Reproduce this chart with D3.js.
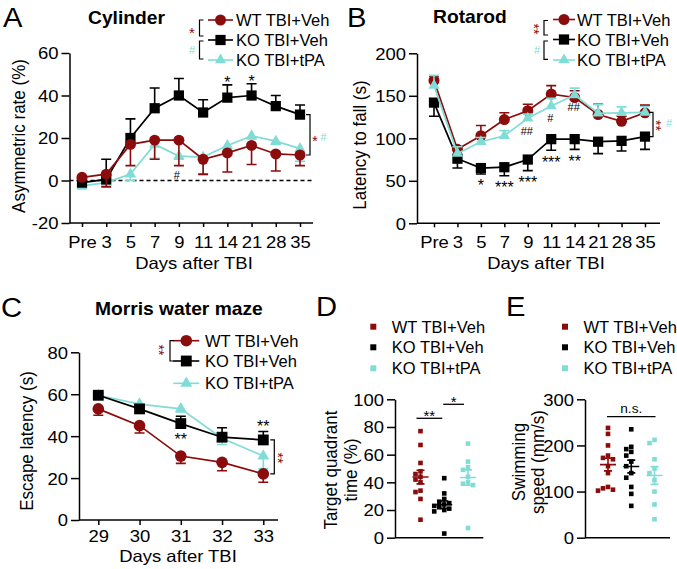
<!DOCTYPE html>
<html><head><meta charset="utf-8">
<script src="https://cdn.jsdelivr.net/npm/d3@7"></script>
<style>body{margin:0;background:#fff} svg{display:block} text{font-family:"Liberation Sans",Arial,Helvetica,sans-serif}</style>
</head><body><svg id="c" width="677" height="569"></svg>
<script>
// ---------------- DATA ----------------
const groupNames = ["WT TBI+Veh", "KO TBI+Veh", "KO TBI+tPA"];

const cylDays = ["Pre","3","5","7","9","11","14","21","28","35"];
const cylTicks = [-20, 0, 20, 40, 60];
const cylWT = [1.5, 3, 17, 19, 19, 10, 13, 16.5, 12.5, 12];
const cylWTErr = [1, 6, 10, 9, 12, 7, 9, 9, 8, 5];
const cylKO = [-1, 0.5, 20, 34, 40, 32, 39, 40, 35, 31];
const cylKOErr = [0.5, 9.5, 9, 9.5, 8, 6, 6, 5.5, 5, 4.5];
const cylTPA = [-2.5, -1, 3, 17, 11.5, 11, 16.5, 21, 18.5, 15];
const cylTPAErr = [1.5, 1, 3, 6.5, 1.5, 8.5, 1.5, 1.5, 1.5, 6];
const cylKOSig = ["", "", "", "", "", "", "*", "*", "", ""];
const cylTPASig = ["", "", "", "", "#", "", "", "", "", ""];

const rotDays = ["Pre","3","5","7","9","11","14","21","28","35"];
const rotTicks = [0, 50, 100, 150, 200];
const rotWT = [168, 87, 103, 122, 132.5, 152, 148, 128, 120, 130];
const rotWTErr = [5, 3, 12, 8, 7.5, 10, 8, 12, 6, 9];
const rotKO = [142, 76, 65, 66, 75, 99, 99, 96, 97, 102];
const rotKOErr = [16, 11, 7, 10, 13, 13, 12, 14, 12, 15];
const rotTPA = [162, 82, 96, 103, 123.5, 138, 151, 129.5, 130, 130.5];
const rotTPAErr = [12, 8, 5, 6, 5, 9, 8, 10, 7, 7];
const rotKOSig = ["", "", "*", "***", "***", "***", "**", "", "", ""];
const rotTPASig = ["", "", "", "", "##", "#", "##", "", "", ""];

const mwmDays = ["29","30","31","32","33"];
const mwmTicks = [0, 20, 40, 60, 80];
const mwmWT = [53, 45, 30.5, 27.5, 22];
const mwmWTErr = [3, 3.5, 3.5, 4, 4];
const mwmKO = [59.5, 53, 46, 39.5, 38.2];
const mwmKOErr = [1, 2, 3.5, 4.5, 4];
const mwmTPA = [59.5, 55.3, 53, 39, 30.5];
const mwmTPAErr = [0.5, 1, 1.5, 3, 6];
const mwmKOSigBelow = ["", "", "**", "", ""];
const mwmKOSigAbove = ["", "", "", "", "**"];

const tqTicks = [0, 20, 40, 60, 80, 100];
const tqWT = [77, 67, 54, 48, 46, 44, 42, 40, 34, 33, 28, 13];
const tqKO = [43, 32, 28, 26, 25, 24, 23, 22, 21, 20, 19, 3];
const tqTPA = [68, 55, 51, 49, 44, 40, 39, 38, 7];

const spTicks = [0, 100, 200, 300];
const spWT = [238, 225, 200, 178, 173, 170, 155, 140, 110, 107, 104, 102];
const spKO = [235, 197, 192, 186, 178, 165, 155, 140, 130, 110, 95, 69];
const spTPA = [212, 205, 170, 150, 140, 125, 100, 72, 40];

// ---------------- STYLE ----------------
const RED = "#8b0c0c", BLK = "#000", CYN = "#7fddd6";
const colors = [RED, BLK, CYN];
const FS = 16.5, SX = 1.12;
const svg = d3.select("#c");

function T(parent, x, y, s, o = {}) {
  const t = parent.append("text").text(s)
    .attr("font-size", o.size || FS)
    .attr("text-anchor", o.anchor || "start")
    .attr("fill", o.fill || "#000");
  if (o.weight) t.attr("font-weight", o.weight);
  const sx = o.sx == null ? SX : o.sx;
  t.attr("transform", o.rot
    ? `translate(${x},${y}) rotate(-90) scale(1,${sx})`
    : `translate(${x},${y}) scale(${sx},1)`);
  return t;
}
// symbol centred at yc (asterisk sits high in the em box)
function star(parent, x, yc, s, fill, size = 16) {
  return T(parent, x, yc + size * 0.62, s, {anchor: "middle", fill, size, sx: 1});
}
// vertically stacked asterisks, centred at (x, yc)
function vstars(parent, x, yc, s, fill, size = 15) {
  return parent.append("text").text(s)
    .attr("font-size", size).attr("text-anchor", "middle").attr("fill", fill)
    .attr("dy", size * 0.62)
    .attr("transform", `translate(${x},${yc}) rotate(90)`);
}
function hash(parent, x, yc, s, fill, size = 11) {
  return T(parent, x, yc + size * 0.36, s, {anchor: "middle", fill, size, sx: 1});
}

function yAxis(g, y, ticks, ax) {
  const a = g.append("g").attr("transform", `translate(${ax},0)`)
    .call(d3.axisLeft(y).tickValues(ticks).tickSize(8).tickSizeOuter(0).tickFormat(d => String(d)));
  a.attr("font-size", null).attr("font-family", null);
  a.selectAll("path,line").attr("stroke", "#000").attr("stroke-width", 1.5);
  a.selectAll("text").attr("x", 0).attr("dy", "0.36em").attr("font-size", FS).attr("fill", "#000")
    .attr("transform", `translate(-11,0) scale(${SX},1)`);
  return a;
}
function xAxisLine(g, x0, x1, yy) {
  g.append("line").attr("x1", x0).attr("x2", x1).attr("y1", yy).attr("y2", yy)
    .attr("stroke", "#000").attr("stroke-width", 1.5);
}

function legendLines(g, rows, lx0, lx1, tx, syms) {
  rows.forEach((ry, i) => {
    g.append("line").attr("x1", lx0).attr("x2", lx1).attr("y1", ry).attr("y2", ry)
      .attr("stroke", colors[i]).attr("stroke-width", 1.6);
    g.append("path").attr("transform", `translate(${(lx0 + lx1) / 2},${ry})`)
      .attr("d", d3.symbol(syms[i].type, syms[i].size)()).attr("fill", colors[i]);
    T(g, tx, ry + 6, groupNames[i], {sx: 1});
  });
}
function bracketL(g, x, y0, y1) {
  g.append("path").attr("d", `M${x + 4},${y0}H${x}V${y1}H${x + 4}`)
    .attr("fill", "none").attr("stroke", "#000").attr("stroke-width", 1.2);
}
function bracketR(g, x, y0, y1) {
  g.append("path").attr("d", `M${x - 4},${y0}H${x}V${y1}H${x - 4}`)
    .attr("fill", "none").attr("stroke", "#000").attr("stroke-width", 1.2);
}

const SYM = [
  {type: d3.symbolCircle, size: 95},
  {type: d3.symbolSquare, size: 105},
  {type: d3.symbolTriangle, size: 55}
];

function linePanel(p) {
  const g = svg.append("g");
  const x = d3.scalePoint().domain(p.cats).range(p.xr);
  const y = d3.scaleLinear().domain(p.yd).range(p.yr);
  yAxis(g, y, p.ticks, p.ax);
  const xa = g.append("g").attr("transform", `translate(0,${p.yr[0]})`)
    .call(d3.axisBottom(x).tickSize(p.xtick).tickSizeOuter(0));
  xa.attr("font-size", null).attr("font-family", null);
  xa.select(".domain").remove();
  xa.selectAll("line").attr("stroke", "#000").attr("stroke-width", 1.5);
  xa.selectAll("text").attr("y", 0).attr("dy", 0).attr("font-size", FS).attr("fill", "#000")
    .attr("transform", `translate(0,${p.xlab}) scale(${SX},1)`);
  xAxisLine(g, p.ax, p.axEnd, p.yr[0]);
  if (p.zero) {
    g.append("line").attr("x1", p.ax).attr("x2", p.axEnd).attr("y1", y(0)).attr("y2", y(0))
      .attr("stroke", "#000").attr("stroke-width", 1.3).attr("stroke-dasharray", "4,3");
  }
  p.order.forEach(k => {
    const s = p.series[k];
    const sg = g.append("g");
    const pts = s.v.map((v, i) => ({c: p.cats[i], v, e: s.e[i]}));
    sg.append("path").datum(pts)
      .attr("d", d3.line().x(d => x(d.c)).y(d => y(d.v)))
      .attr("fill", "none").attr("stroke", colors[k]).attr("stroke-width", 1.7);
    sg.selectAll(".eb").data(pts).join("path")
      .attr("d", d => {
        const xx = x(d.c), y0 = y(d.v), y1 = y(d.v + s.dir * d.e);
        return `M${xx},${y0}V${y1}M${xx - 5},${y1}H${xx + 5}`;
      })
      .attr("fill", "none").attr("stroke", colors[k]).attr("stroke-width", 1.6);
    sg.selectAll(".mk").data(pts).join("path")
      .attr("transform", d => `translate(${x(d.c)},${y(d.v)})`)
      .attr("d", d3.symbol(SYM[k].type, p.symScale * SYM[k].size)())
      .attr("fill", colors[k]);
  });
  T(g, p.xt[0], p.xt[1], "Days after TBI", {anchor: "middle"});
  T(g, p.yt[0], p.yt[1], p.ytitle, {anchor: "middle", rot: true, size: 17});
  T(g, p.title[0], p.title[1], p.titleText, {weight: "bold", size: 17.5, sx: 1.1});
  T(g, p.letter[0], p.letter[1], p.letterText, {size: 27, sx: 1.08});
  return {g, x, y};
}

// ---------------- PANEL A ----------------
{
  const {g, x, y} = linePanel({
    cats: cylDays, xr: [82, 300], yd: [-20, 60], yr: [223, 53], ticks: cylTicks,
    ax: 69.5, axEnd: 313, xtick: 4, xlab: 25, zero: true,
    series: [{v: cylWT, e: cylWTErr, dir: -1}, {v: cylKO, e: cylKOErr, dir: 1}, {v: cylTPA, e: cylTPAErr, dir: -1}],
    order: [2, 1, 0], symScale: 1,
    xt: [194, 269], yt: [25, 136], ytitle: "Asymmetric rate (%)",
    title: [88, 23.5], titleText: "Cylinder", letter: [3, 26.7], letterText: "A"
  });
  cylKOSig.forEach((s, i) => { if (s) star(g, x(cylDays[i]), y(cylKO[i] + cylKOErr[i]) - 7, s, BLK); });
  cylTPASig.forEach((s, i) => { if (s) hash(g, x(cylDays[i]) - 2, y(Math.min(cylWT[i] - cylWTErr[i], cylTPA[i] - cylTPAErr[i])) + 9, s, BLK); });
  legendLines(g, [20, 40, 60], 208, 233, 236, SYM);
  bracketL(g, 199.5, 20, 36); star(g, 192, 29, "*", RED, 15);
  bracketL(g, 199.5, 41, 59); hash(g, 192, 50, "#", CYN, 11);
  const yt = y(cylKO[9]), yb = y(cylWT[9]);
  bracketR(g, 310, yt, yb);
  star(g, 315, (yt + yb) / 2 + 2, "*", RED, 15);
  hash(g, 323.5, (yt + yb) / 2 + 2, "#", CYN, 11);
}

// ---------------- PANEL B ----------------
{
  const {g, x, y} = linePanel({
    cats: rotDays, xr: [434, 645], yd: [0, 200], yr: [223.3, 53.3], ticks: rotTicks,
    ax: 417, axEnd: 660, xtick: 4, xlab: 25,
    series: [{v: rotWT, e: rotWTErr, dir: 1}, {v: rotKO, e: rotKOErr, dir: -1}, {v: rotTPA, e: rotTPAErr, dir: 1}],
    order: [1, 0, 2], symScale: 1,
    xt: [546, 269.3], yt: [366, 145], ytitle: "Latency to fall (s)",
    title: [433, 22.7], titleText: "Rotarod", letter: [347, 26.7], letterText: "B"
  });
  rotKOSig.forEach((s, i) => { if (s) star(g, x(rotDays[i]), y(rotKO[i] - rotKOErr[i]) + 7.5, s, BLK); });
  rotTPASig.forEach((s, i) => { if (s) hash(g, x(rotDays[i]) - 1, y(rotTPA[i]) + 12.5, s, BLK); });
  legendLines(g, [19.5, 39.5, 60], 553, 575, 577, SYM);
  bracketL(g, 544, 20.5, 35); vstars(g, 538, 29, "**", RED, 14);
  bracketL(g, 544, 41, 59.3); hash(g, 537, 50, "#", CYN, 11);
  const yt = y(rotTPA[9]), yb = y(rotKO[9]);
  bracketR(g, 653, yt, yb);
  vstars(g, 659.5, (yt + yb) / 2 + 1, "**", RED, 14);
  hash(g, 669, (yt + yb) / 2 - 1, "#", CYN, 11);
}

// ---------------- PANEL C ----------------
{
  const {g, x, y} = linePanel({
    cats: mwmDays, xr: [98.3, 263.3], yd: [0, 80], yr: [520, 352.3], ticks: mwmTicks,
    ax: 79, axEnd: 278, xtick: 5, xlab: 22,
    series: [{v: mwmWT, e: mwmWTErr, dir: -1}, {v: mwmKO, e: mwmKOErr, dir: 1}, {v: mwmTPA, e: mwmTPAErr, dir: -1}],
    order: [2, 1, 0], symScale: 1.12,
    xt: [178, 561.5], yt: [33, 441], ytitle: "Escape latency (s)",
    title: [95, 315], titleText: "Morris water maze", letter: [1, 317], letterText: "C"
  });
  mwmKOSigBelow.forEach((s, i) => { if (s) star(g, x(mwmDays[i]), y(mwmKO[i]) + 11.5, s, BLK); });
  mwmKOSigAbove.forEach((s, i) => { if (s) star(g, x(mwmDays[i]), y(mwmKO[i] + mwmKOErr[i]) - 9, s, BLK); });
  legendLines(g, [340.7, 361, 383.3], 173.3, 199.3, 205, [
    {type: d3.symbolCircle, size: 106}, {type: d3.symbolSquare, size: 118}, {type: d3.symbolTriangle, size: 62}]);
  bracketL(g, 170, 340.7, 361); vstars(g, 163, 350, "**", RED, 14);
  const yt = y(mwmKO[4]), yb = y(mwmWT[4]);
  bracketR(g, 274.3, yt, yb);
  vstars(g, 281.5, (yt + yb) / 2 + 1, "**", RED, 14);
}

// ---------------- SCATTER PANELS ----------------
function swarm(vals, y, r) {
  const order = vals.map((v, i) => i).sort((a, b) => vals[b] - vals[a]);
  const placed = [], offs = new Array(vals.length).fill(0);
  const cands = [0, -5, 5, -10, 10, -2.5, 2.5, -7.5, 7.5, -12.5, 12.5];
  order.forEach(i => {
    const py = y(vals[i]);
    for (const c of cands) {
      if (placed.every(q => Math.hypot(q.x - c, q.y - py) >= r)) { offs[i] = c; placed.push({x: c, y: py}); return; }
    }
    placed.push({x: 0, y: py});
  });
  return offs;
}

function scatterPanel(p) {
  const g = svg.append("g");
  const x = d3.scalePoint().domain(groupNames).range(p.xr);
  const y = d3.scaleLinear().domain(p.yd).range(p.yr);
  yAxis(g, y, p.ticks, p.ax);
  xAxisLine(g, p.ax, p.axEnd, p.yr[0]);
  p.data.forEach((vals, k) => {
    const cx = x(groupNames[k]);
    const offs = swarm(vals, y, 5);
    g.selectAll(null).data(vals).join("rect")
      .attr("x", (d, i) => cx + offs[i] - 2.3).attr("y", d => y(d) - 2.3)
      .attr("width", 4.6).attr("height", 4.6).attr("fill", colors[k]);
    const m = d3.mean(vals), se = d3.deviation(vals) / Math.sqrt(vals.length);
    g.append("path")
      .attr("d", `M${cx - 8},${y(m)}H${cx + 8}M${cx},${y(m + se)}V${y(m - se)}M${cx - 4},${y(m + se)}H${cx + 4}M${cx - 4},${y(m - se)}H${cx + 4}`)
      .attr("fill", "none").attr("stroke", colors[k]).attr("stroke-width", 1.6);
  });
  // legend
  p.legRows.forEach((ry, i) => {
    g.append("rect").attr("x", p.legX - 3).attr("y", ry - 3).attr("width", 6).attr("height", 6).attr("fill", colors[i]);
    T(g, p.legX + 18.5, ry + 6, groupNames[i], {sx: 1});
  });
  p.ytitle.forEach((t, i) => T(g, p.yt[i][0], p.yt[i][1], t, {anchor: "middle", rot: true, size: 17}));
  T(g, p.letter[0], p.letter[1], p.letterText, {size: 27, sx: 1.08});
  return {g, x, y};
}

// ---------------- PANEL D ----------------
{
  const {g, x} = scatterPanel({
    data: [tqWT, tqKO, tqTPA], xr: [420.5, 468], yd: [0, 100], yr: [537.7, 399.3], ticks: tqTicks,
    ax: 395, axEnd: 483.3, legX: 373.3, legRows: [326.7, 347.3, 368.3],
    ytitle: ["Target quadrant", "time (%)"], yt: [[337, 470], [357, 470]],
    letter: [316, 316], letterText: "D"
  });
  const xa = x(groupNames[0]), xb = x(groupNames[1]), xc = x(groupNames[2]);
  g.append("line").attr("x1", xa - 4).attr("x2", xb - 2).attr("y1", 418.3).attr("y2", 418.3).attr("stroke", "#000").attr("stroke-width", 1.3);
  star(g, (xa + xb) / 2 - 3, 412, "**", BLK, 15);
  g.append("line").attr("x1", xb - 1).attr("x2", xc - 4).attr("y1", 404.3).attr("y2", 404.3).attr("stroke", "#000").attr("stroke-width", 1.3);
  star(g, (xb + xc) / 2 - 2.5, 397.5, "*", BLK, 15);
}

// ---------------- PANEL E ----------------
{
  const {g, x} = scatterPanel({
    data: [spWT, spKO, spTPA], xr: [608, 654.5], yd: [0, 300], yr: [537.7, 399.3], ticks: spTicks,
    ax: 585, axEnd: 670, legX: 565, legRows: [326.7, 347.3, 368.3],
    ytitle: ["Swimming", "speed (mm/s)"], yt: [[525, 462], [544, 462]],
    letter: [506, 316], letterText: "E"
  });
  const xa = x(groupNames[0]), xc = x(groupNames[2]);
  g.append("line").attr("x1", xa - 1).attr("x2", xc + 1).attr("y1", 416.7).attr("y2", 416.7).attr("stroke", "#000").attr("stroke-width", 1.3);
  T(g, (xa + xc) / 2, 413, "n.s.", {anchor: "middle", size: 13, sx: 1.05});
}
</script></body></html>
